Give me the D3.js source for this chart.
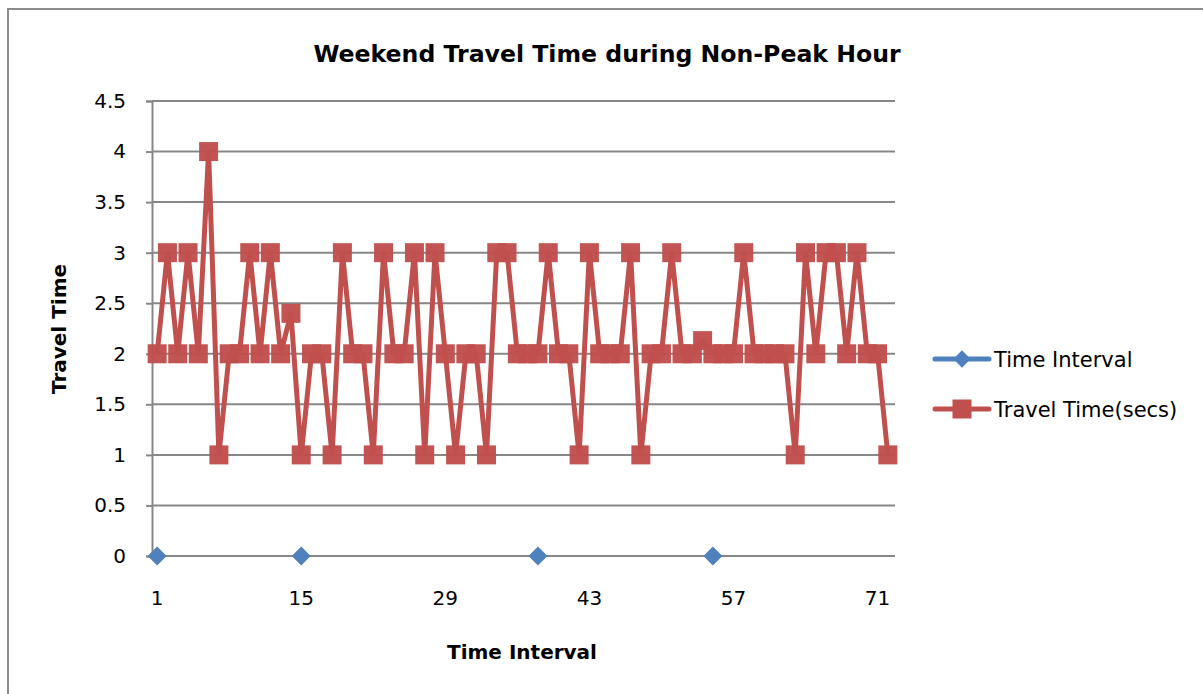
<!DOCTYPE html>
<html>
<head>
<meta charset="utf-8">
<script src="https://cdn.jsdelivr.net/npm/d3@7"></script>
<style>
  html, body { margin: 0; padding: 0; background: #fff; }
  svg { display: block; font-family: "DejaVu Sans", sans-serif; }
</style>
</head>
<body>
<svg id="chart" width="1203" height="694"></svg>
<script>
const categories = d3.range(1, 73);
const travelTime = [2,3,2,3,2,4,1,2,2,3,2,3,2,2.4,1,2,2,1,3,2,
                    2,1,3,2,2,3,1,3,2,1,2,2,1,3,3,2,2,2,3,2,
                    2,1,3,2,2,2,3,1,2,2,3,2,2,2.13,2,2,2,3,2,2,
                    2,2,1,3,2,3,3,2,3,2,2,1];
const timeInterval = categories.map(c => [1, 15, 38, 55].includes(c) ? 0 : null);
const yTicks = [0, 0.5, 1, 1.5, 2, 2.5, 3, 3.5, 4, 4.5];
const xTickLabels = [1, 15, 29, 43, 57, 71];
const seriesNames = ["Time Interval", "Travel Time(secs)"];
const colors = ["#4F81BD", "#C0504D"];

(function () {
const FONT = "DejaVu Sans";
const svg = d3.select("#chart");

// outer chart border
svg.append("rect")
  .attr("x", 8).attr("y", 9).attr("width", 1240).attr("height", 720)
  .attr("fill", "#fff").attr("stroke", "#8c8c8c").attr("stroke-width", 2);

const pL = 152, pR = 893, pT = 101, pB = 556;
const x = d3.scaleBand().domain(categories).range([pL, pR]).paddingInner(0).paddingOuter(0);
const y = d3.scaleLinear().domain([0, 4.5]).range([pB, pT]);
const cx = c => x(c) + x.bandwidth() / 2;

// gridlines
svg.append("g").selectAll("line").data(yTicks.filter(t => t > 0)).join("line")
  .attr("x1", pL).attr("x2", pR + 2)
  .attr("y1", d => y(d)).attr("y2", d => y(d))
  .attr("stroke", "#878787").attr("stroke-width", 2);

// y axis
const yAxis = svg.append("g").attr("transform", `translate(${pL},0)`)
  .call(d3.axisLeft(y).tickValues(yTicks).tickSize(6).tickPadding(20).tickFormat(d3.format("")));
yAxis.select(".domain").attr("stroke", "#878787").attr("stroke-width", 2);
yAxis.selectAll(".tick line").attr("stroke", "#878787").attr("stroke-width", 2);
yAxis.selectAll("text").attr("font-size", 20).attr("fill", "#000").attr("font-family", FONT);

// x axis
const xAxis = svg.append("g").attr("transform", `translate(0,${pB})`)
  .call(d3.axisBottom(x).tickValues(xTickLabels).tickSize(0).tickPadding(35));
xAxis.select(".domain").attr("stroke", "#878787").attr("stroke-width", 2)
  .attr("d", `M${pL},0H${pR + 2}`);
xAxis.selectAll("text").attr("font-size", 20).attr("fill", "#000").attr("font-family", FONT);

// red series line
const line = d3.line().defined(d => d.v != null).x(d => cx(d.c)).y(d => y(d.v));
const redData = categories.map((c, i) => ({c, v: travelTime[i]}));
svg.append("path").datum(redData)
  .attr("d", line).attr("fill", "none")
  .attr("stroke", colors[1]).attr("stroke-width", 5).attr("stroke-linejoin", "round");
const ms = 19;
svg.append("g").selectAll("rect").data(redData).join("rect")
  .attr("x", d => cx(d.c) - ms / 2).attr("y", d => y(d.v) - ms / 2)
  .attr("width", ms).attr("height", ms)
  .attr("fill", colors[1]).attr("fill-opacity", 0.97);

// blue series
const blueData = categories.map((c, i) => ({c, v: timeInterval[i]}));
svg.append("path").datum(blueData)
  .attr("d", line).attr("fill", "none")
  .attr("stroke", colors[0]).attr("stroke-width", 5);
svg.append("g").selectAll("path").data(blueData.filter(d => d.v != null)).join("path")
  .attr("d", d3.symbol().type(d3.symbolSquare).size(180))
  .attr("transform", d => `translate(${cx(d.c)},${y(d.v)}) rotate(45)`)
  .attr("fill", colors[0]);

// title
svg.append("text").attr("x", 607).attr("y", 62).attr("text-anchor", "middle")
  .attr("font-size", 23.6).attr("font-weight", "bold").attr("font-family", FONT)
  .text("Weekend Travel Time during Non-Peak Hour");

// axis titles
svg.append("text").attr("x", 522).attr("y", 659).attr("text-anchor", "middle")
  .attr("font-size", 20).attr("font-weight", "bold").attr("font-family", FONT)
  .text("Time Interval");
svg.append("text").attr("transform", "translate(66,329) rotate(-90)").attr("text-anchor", "middle")
  .attr("font-size", 20).attr("font-weight", "bold").attr("font-family", FONT)
  .text("Travel Time");

// legend
const legend = svg.append("g");
const ly = [359, 409];
seriesNames.forEach((name, i) => {
  const g = legend.append("g").attr("transform", `translate(0,${ly[i]})`);
  g.append("line").attr("x1", 935).attr("x2", 989).attr("y1", 0).attr("y2", 0)
    .attr("stroke", colors[i]).attr("stroke-width", 5).attr("stroke-linecap", "round");
  if (i === 0) {
    g.append("path").attr("d", d3.symbol().type(d3.symbolSquare).size(150))
      .attr("transform", "translate(962,0) rotate(45)").attr("fill", colors[i]);
  } else {
    g.append("rect").attr("x", 962 - 9.5).attr("y", -9.5).attr("width", 19).attr("height", 19)
      .attr("fill", colors[i]);
  }
  g.append("text").attr("x", 994).attr("y", 8).attr("font-size", 21).attr("font-family", FONT)
    .text(name);
});
})();
</script>
</body>
</html>
